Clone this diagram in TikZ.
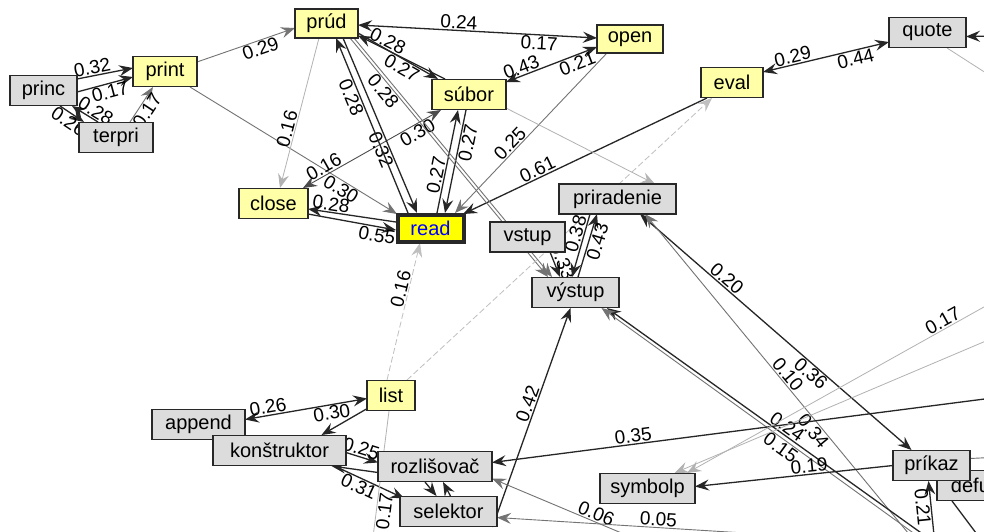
\documentclass[tikz,border=0pt]{standalone}
\usepackage{fontspec}
\setmainfont{Liberation Sans}
\usetikzlibrary{arrows.meta,backgrounds}
\definecolor{boxy}{RGB}{255,255,168}
\definecolor{boxg}{RGB}{220,220,220}
\definecolor{boxr}{RGB}{255,255,0}
\definecolor{edgec}{RGB}{40,40,40}
\tikzset{
  nd/.style={draw=edgec, line width=1.5pt, minimum height=30pt, inner sep=1pt,
             font=\fontsize{20}{22}\selectfont},
  yb/.style={nd, fill=boxy},
  gb/.style={nd, fill=boxg},
  arr/.style={-{Stealth[length=14pt,width=11pt,inset=5pt]}},
  barr/.style={{Stealth[length=14pt,width=11pt,inset=5pt]}-{Stealth[length=14pt,width=11pt,inset=5pt]}},
  ek/.style={draw=black!85, line width=1.3pt},
  eg/.style={draw=black!55, line width=0.9pt},
  el/.style={draw=black!30, line width=0.8pt},
  ed/.style={draw=black!25, line width=0.8pt, dash pattern=on 6pt off 3pt},
  lab/.style={font=\fontsize{19}{20}\selectfont, sloped, inner sep=1pt, text=black},
}
\begin{document}
\begin{tikzpicture}[x=1pt,y=-1pt]
\useasboundingbox (0,0) rectangle (984,531);
\clip (0,0) rectangle (984,531);

% concept boxes
\node[gb, minimum width=67pt] (princ) at (43.5,90.5) {princ};
\node[yb, minimum width=64pt] (print) at (165,71.5) {print};
\node[gb, minimum width=74pt] (terpri) at (116,137.5) {terpri};
\node[yb, minimum width=63pt, minimum height=29pt] (prud) at (326.5,23.5) {prúd};
\node[yb, minimum width=66pt, minimum height=28pt] (open) at (630,39) {open};
\node[yb, minimum width=74pt] (subor) at (469,94.5) {súbor};
\node[yb, minimum width=62pt] (eval) at (732,82.5) {eval};
\node[gb, minimum width=77pt] (quote) at (927.5,32.5) {quote};
\node[yb, minimum width=69pt] (close) at (273.5,203.5) {close};
\node[nd, fill=boxr, line width=4pt, text=blue, minimum width=66pt, minimum height=27pt] (read) at (430.5,228) {read};
\node[gb, minimum width=117pt] (prir) at (617.5,199) {priradenie};
\node[gb, minimum width=75pt] (vstup) at (527.5,237) {vstup};
\node[gb, minimum width=87pt] (vystup) at (575.5,292.5) {výstup};
\node[yb, minimum width=48pt] (list) at (391,395.5) {list};
\node[gb, minimum width=93pt] (append) at (198.5,424.5) {append};
\node[gb, minimum width=133pt] (konst) at (279.5,450.5) {konštruktor};
\node[gb, minimum width=114pt] (rozl) at (435,466.5) {rozlišovač};
\node[gb, minimum width=97pt] (selek) at (448.5,511.5) {selektor};
\node[gb, minimum width=95pt] (symb) at (647.5,488.5) {symbolp};
\node[gb, minimum width=78pt] (defun) at (976,485.5) {defun};
\node[gb, minimum width=77pt] (prikaz) at (931.5,465.5) {príkaz};

% loose ends of links leaving the sheet
\coordinate (rQ) at (1000,36);
\coordinate (rQb) at (1000,82);
\coordinate (rS1) at (1000,298);
\coordinate (rS2) at (1000,335);
\coordinate (rR) at (1000,397);
\coordinate (rP) at (1000,457);
\coordinate (bP) at (918,545);
\coordinate (bV1) at (938,545);
\coordinate (bV2) at (930,545);
\coordinate (bK) at (935,545);
\coordinate (bD) at (985,545);
\coordinate (bR) at (650,545);
\coordinate (bS) at (1000,549);
\coordinate (bL) at (372,545);

\begin{pgfonlayer}{background}
\fill[white] (0,0) rectangle (984,531);
\clip (0,0) rectangle (984,531);

% print / princ / terpri
\draw[eg,arr] ([shift={(32,-9.5)}]print.center) -- node[lab,pos=.62,below]{0.29} ([shift={(-31.5,4.5)}]prud.center);
\draw[ek,arr] ([shift={(33.5,-11.5)}]princ.center) -- node[lab,pos=.3,above]{0.32} ([shift={(-32,-3.5)}]print.center);
\draw[ek,arr] ([shift={(33.5,1.5)}]princ.center) -- node[lab,pos=.55,below]{0.17} ([shift={(-32,5.5)}]print.center);
\draw[ek,arr] ([shift={(-18,-15.5)}]terpri.center) -- node[lab,pos=.25,above]{0.28} ([shift={(28.5,15.5)}]princ.center);
\draw[ek,arr] ([shift={(16.5,15.5)}]princ.center) -- node[lab,pos=.55,below]{0.26} ([shift={(-32,-15.5)}]terpri.center);
\draw[eg,arr] ([shift={(14,-15.5)}]terpri.center) -- node[lab,pos=.45,below]{0.17} ([shift={(-12,15.5)}]print.center);
\draw[eg,arr] ([shift={(25,15.5)}]print.center) -- node[lab,pos=.75,below]{0.30} ([shift={(-33.5,-14)}]read.center);

% prúd, close, súbor, read
\draw[el,arr] ([shift={(-7.5,14.5)}]prud.center) -- node[lab,pos=.62,above]{0.16} ([shift={(6.5,-15.5)}]close.center);
\draw[eg,barr,draw=black!70] ([shift={(29.5,-15.5)}]close.center) -- node[lab,pos=.18,above]{0.16} node[lab,pos=.8,below]{0.30} ([shift={(-28,15.5)}]subor.center);
\draw[ek,arr] ([shift={(-34.5,-6)}]read.center) -- node[lab,pos=.75,above]{0.28} ([shift={(34.5,5.5)}]close.center);
\draw[ek,arr] ([shift={(34.5,10.5)}]close.center) -- node[lab,pos=.8,below]{0.55} ([shift={(-34.5,2)}]read.center);
\draw[ek,arr] ([shift={(16.5,14.5)}]prud.center) -- node[lab,pos=.62,below]{0.32} ([shift={(-13.5,-15)}]read.center);
\draw[ek,arr] ([shift={(-22.5,-15)}]read.center) -- node[lab,pos=.68,below]{0.28} ([shift={(9.5,14.5)}]prud.center);
\draw[ek,arr] ([shift={(31.5,9.5)}]prud.center) -- node[lab,pos=.6,below]{0.27} ([shift={(-31,-15.5)}]subor.center);
\draw[ek,arr] ([shift={(-24,-15.5)}]subor.center) -- node[lab,pos=.7,above]{0.28} ([shift={(31.5,12)}]prud.center);
\draw[ek,arr] ([shift={(6.5,-15)}]read.center) -- node[lab,pos=.35,above]{0.27} ([shift={(-11,15.5)}]subor.center);
\draw[ek,arr] ([shift={(-3,15.5)}]subor.center) -- node[lab,pos=.3,below]{0.27} ([shift={(14.5,-15)}]read.center);
\draw[eg,arr] ([shift={(-23,14)}]open.center) -- node[lab,pos=.6,above]{0.25} ([shift={(24.5,-15)}]read.center);
\draw[ek,arr] ([shift={(-25,15.5)}]eval.center) -- node[lab,pos=.68,above]{0.61} ([shift={(32.5,-14)}]read.center);
\draw[ek,barr] ([shift={(31.5,1.5)}]prud.center) -- node[lab,pos=.42,above]{0.24} node[lab,pos=.76,below]{0.17} ([shift={(-33,-1)}]open.center);
\draw[ek,barr] ([shift={(-33,8)}]open.center) -- node[lab,pos=.25,below]{0.21} node[lab,pos=.8,above]{0.43} ([shift={(37,-12.5)}]subor.center);
\draw[eg,arr] ([shift={(23.5,14.5)}]prud.center) -- node[lab,pos=.2,below]{0.28} ([shift={(-27.5,-15.5)}]vystup.center);
\draw[eg,arr] ([shift={(27.5,14.5)}]prud.center) -- ([shift={(-23.5,-15.5)}]vystup.center);
\draw[el,arr] ([shift={(37,13.5)}]subor.center) -- ([shift={(37.5,-15)}]prir.center);
\draw[ed,arr] ([shift={(16,-15.5)}]list.center) -- ([shift={(-20,15.5)}]eval.center);
\draw[ed,arr] ([shift={(-4,-15.5)}]list.center) -- node[lab,pos=.65,above]{0.16} ([shift={(-10.5,15)}]read.center);

% eval, quote
\draw[ek,barr] ([shift={(31,-10.5)}]eval.center) -- node[lab,pos=.25,above]{0.29} node[lab,pos=.72,below]{0.44} ([shift={(-38.5,9.5)}]quote.center);
\draw[ek,arr] (rQ) -- ([shift={(38.5,4)}]quote.center);
\draw[el] ([shift={(19.5,15.5)}]quote.center) -- (rQb);

% vstup, výstup, priradenie, príkaz
\draw[ek,arr] ([shift={(22.5,15)}]vstup.center) -- node[lab,pos=.5,above]{0.33} ([shift={(-15.5,-15.5)}]vystup.center);
\draw[ek,arr] ([shift={(-27.5,15)}]prir.center) -- node[lab,pos=.35,above]{0.38} ([shift={(-3.5,-15.5)}]vystup.center);
\draw[ek,arr] ([shift={(2.5,-15.5)}]vystup.center) -- node[lab,pos=.6,below]{0.43} ([shift={(-20.5,15)}]prir.center);
\draw[ek,barr] ([shift={(22.5,15)}]prir.center) -- node[lab,pos=.3,above]{0.20} node[lab,pos=.65,below]{0.36} ([shift={(-20,-15.5)}]prikaz.center);
\draw[eg,arr] (bP) -- node[lab,pos=.5,above]{0.10} node[lab,pos=.36,below]{0.34} ([shift={(27.5,15)}]prir.center);
\draw[ek,arr] (bV1) -- node[lab,pos=.47,above]{0.24} ([shift={(31.5,15.5)}]vystup.center);
\draw[eg,arr] (bV2) -- node[lab,pos=.44,below]{0.15} ([shift={(26,15.5)}]vystup.center);

% lower right
\draw[ek,arr] (rR) -- node[lab,pos=.72,above]{0.35} ([shift={(57,-4)}]rozl.center);
\draw[ek,arr] ([shift={(-38.5,0)}]prikaz.center) -- node[lab,pos=.42,above]{0.19} ([shift={(47.5,-2)}]symb.center);
\draw[el,arr] (rS1) -- node[lab,pos=.17,above]{0.17} ([shift={(39.5,-15.5)}]symb.center);
\draw[el,arr] (rS2) -- ([shift={(27,-15.5)}]symb.center);
\draw[ek,arr] (bK) -- node[lab,pos=.6,below]{0.21} ([shift={(-3,15.5)}]prikaz.center);
\draw[eg] ([shift={(38.5,-7)}]prikaz.center) -- (rP);
\draw[ek] ([shift={(-24,15.5)}]defun.center) -- (bD);
\draw[ek,arr] ([shift={(44,15.5)}]selek.center) -- node[lab,pos=.55,above]{0.42} ([shift={(-5,15.5)}]vystup.center);
\draw[eg,arr] (bR) -- node[lab,pos=.36,above]{0.06} ([shift={(57,12)}]rozl.center);
\draw[eg,arr] (bS) -- node[lab,pos=.68,above]{0.05} ([shift={(48.5,6)}]selek.center);

% lower left
\draw[ek,barr] ([shift={(-24,3)}]list.center) -- node[lab,pos=.3,below]{0.30} node[lab,pos=.8,above]{0.26} ([shift={(46.5,-5)}]append.center);
\draw[ek,arr] ([shift={(-22,12)}]list.center) -- ([shift={(42,-15.5)}]konst.center);
\draw[ek,arr] ([shift={(66.5,2)}]konst.center) -- node[lab,pos=.4,above]{0.25} ([shift={(-57,-4)}]rozl.center);
\draw[ek,arr] ([shift={(-57,6)}]rozl.center) -- ([shift={(52,15.5)}]konst.center);
\draw[ek,arr] ([shift={(-10,15.5)}]rozl.center) -- ([shift={(-12,-15.5)}]selek.center);
\draw[ek,arr] ([shift={(2,-15.5)}]selek.center) -- ([shift={(8,15.5)}]rozl.center);
\draw[ek,arr] ([shift={(55,15.5)}]konst.center) -- node[lab,pos=.4,below]{0.31} ([shift={(-44,-13)}]selek.center);
\draw[el] ([shift={(-2,15.5)}]list.center) -- node[lab,pos=.74,below]{0.17} (bL);
\end{pgfonlayer}
\end{tikzpicture}
\end{document}
